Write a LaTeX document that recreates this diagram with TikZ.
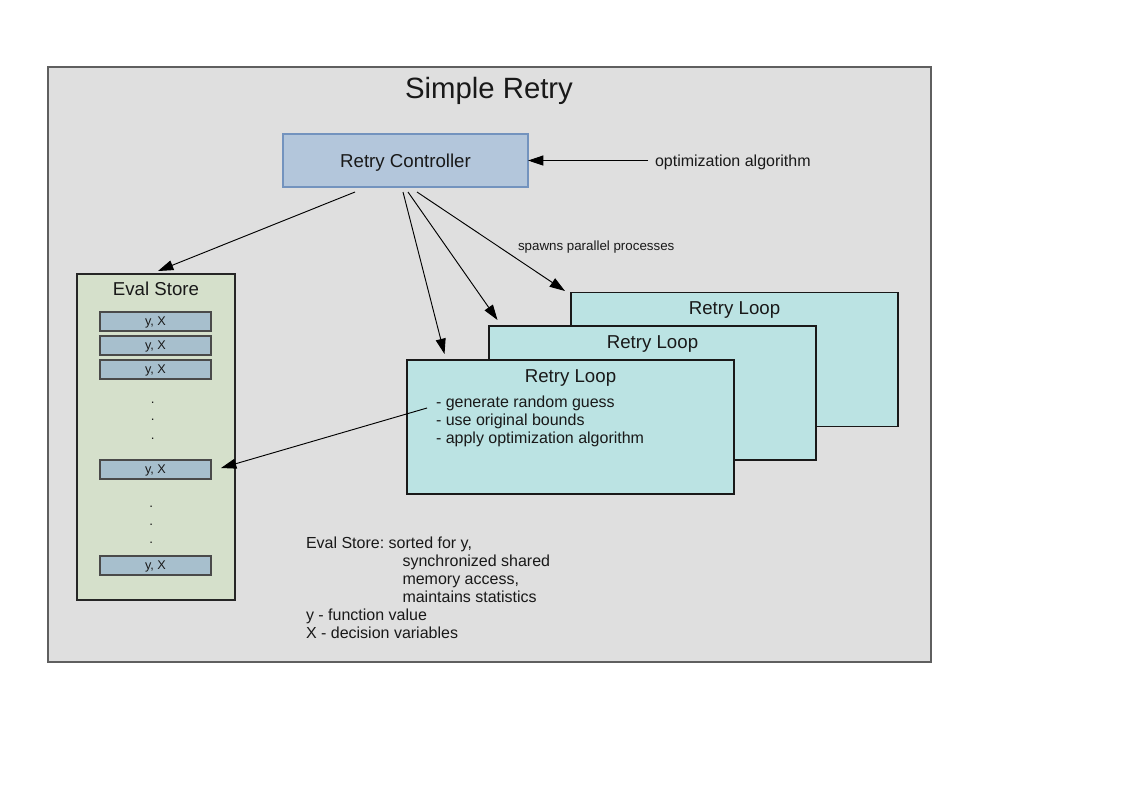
\documentclass[tikz,border=0pt]{standalone}
\usepackage{fontspec}
\setmainfont{Liberation Sans}
\usetikzlibrary{arrows.meta,calc}
\definecolor{bggray}{HTML}{DFDFDF}
\definecolor{framegray}{HTML}{5F5F5F}
\definecolor{ctrlfill}{HTML}{B3C6DB}
\definecolor{ctrldraw}{HTML}{7393BE}
\definecolor{storefill}{HTML}{D5E0CB}
\definecolor{barfill}{HTML}{A7BFCD}
\definecolor{bardraw}{HTML}{4A4A4A}
\definecolor{loopfill}{HTML}{BBE3E3}
\frenchspacing
\begin{document}
\begin{tikzpicture}[x=0.75pt,y=-0.75pt,
  every node/.style={inner sep=0pt, outer sep=0pt, text=black!90},
  body/.style={font=\fontsize{12}{13.5}\selectfont},
  small/.style={font=\fontsize{10}{12}\selectfont},
  heading/.style={font=\fontsize{14}{16}\selectfont},
  frame/.style={draw=framegray, line width=1.1pt, fill=bggray},
  ctrlbox/.style={draw=ctrldraw, line width=0.8pt, fill=ctrlfill,
    minimum width=183.75pt, minimum height=39.75pt, heading,
    text height=12.3pt, text depth=2pt},
  storebox/.style={draw=black!85, line width=0.8pt, fill=storefill,
    minimum width=118.5pt, minimum height=244.5pt},
  bar/.style={draw=bardraw, line width=0.8pt, fill=barfill,
    minimum width=83.25pt, minimum height=14.25pt,
    font=\fontsize{9.5}{11}\selectfont, text height=8.5pt, text depth=2pt},
  loopbox/.style={draw=black!90, line width=0.8pt, fill=loopfill,
    minimum width=245.25pt, minimum height=100.5pt},
  arr/.style={draw=black, line width=0.7pt, -{Triangle[length=11.5pt,width=7.5pt]}},
  dotnode/.style={font=\fontsize{10}{12}\selectfont, anchor=base}
]
\fill[white] (0,0) rectangle (1123,794);
\useasboundingbox (0,0) rectangle (1123,794);

% outer frame
\node[frame, minimum width=662.25pt, minimum height=446.25pt] (frame) at (489.5,364.5) {};
\node[anchor=base, font=\fontsize{22}{26}\selectfont] (title) at (489,98) {Simple Retry};

% controller
\node[ctrlbox] (ctrl) at (405.5,160.5) {Retry Controller};
\node[body, anchor=base west] (opt) at (655,166) {optimization algorithm};
\draw[arr] ([xshift=-5.25pt]opt.west |- ctrl.east) -- (ctrl.east);

% eval store
\node[storebox] (store) at (156,437) {};
\node[heading, anchor=base] (storetitle) at (156,295) {Eval Store};
\node[bar] (b1) at (155.5,321.5) {y, X};
\node[bar] (b2) at (155.5,345.5) {y, X};
\node[bar] (b3) at (155.5,369.5) {y, X};
\node[bar] (b4) at (155.5,469.5) {y, X};
\node[bar] (b5) at (155.5,565.5) {y, X};
\node[dotnode] (d1) at (152.7,403.2) {.};
\node[dotnode] (d2) at (152.7,420.6) {.};
\node[dotnode] (d3) at (152.7,439.2) {.};
\node[dotnode] (d4) at (151.3,507.5) {.};
\node[dotnode] (d5) at (151.3,525.5) {.};
\node[dotnode] (d6) at (151.3,543.5) {.};

% retry loops (back to front)
\node[loopbox] (l3) at (734.5,359.5) {};
\node[heading, anchor=base] (l3t) at ($(l3.north)+(0,22)$) {Retry Loop};
\node[loopbox] (l2) at (652.5,393) {};
\node[heading, anchor=base] (l2t) at ($(l2.north)+(0,22)$) {Retry Loop};
\node[loopbox] (l1) at (570.5,427) {};
\node[heading, anchor=base] (l1t) at ($(l1.north)+(0,22)$) {Retry Loop};
\node[body, anchor=base west] (g1) at (436,407.5) {- generate random guess};
\node[body, anchor=base west] (g2) at (436,425.3) {- use original bounds};
\node[body, anchor=base west] (g3) at (436,443.1) {- apply optimization algorithm};

\node[small, anchor=base west] (spawn) at (518,250) {spawns parallel processes};

% connector end points
\coordinate (s0) at (355,192);
\coordinate (t0) at (158,271);
\coordinate (s1) at (403,192);
\coordinate (t1) at (444.5,354);
\coordinate (s2) at (408,192);
\coordinate (t2) at (497.5,320);
\coordinate (s3) at (417,192);
\coordinate (t3) at (565,291);
\coordinate (s4) at (427,408);
\coordinate (t4) at (221,468);

\draw[arr] (s0) -- (t0);
\draw[arr] (s1) -- (t1);
\draw[arr] (s2) -- (t2);
\draw[arr] (s3) -- (t3);
\draw[arr] (s4) -- (t4);

% legend text
\node[body, anchor=base west] (n1) at (306,548) {Eval Store: sorted for y,};
\node[body, anchor=base west] (n2) at (402.5,566) {synchronized shared};
\node[body, anchor=base west] (n3) at (402.5,584) {memory access,};
\node[body, anchor=base west] (n4) at (402.5,602) {maintains statistics};
\node[body, anchor=base west] (n5) at (306,620) {y - function value};
\node[body, anchor=base west] (n6) at (306,638) {X - decision variables};
\end{tikzpicture}
\end{document}
